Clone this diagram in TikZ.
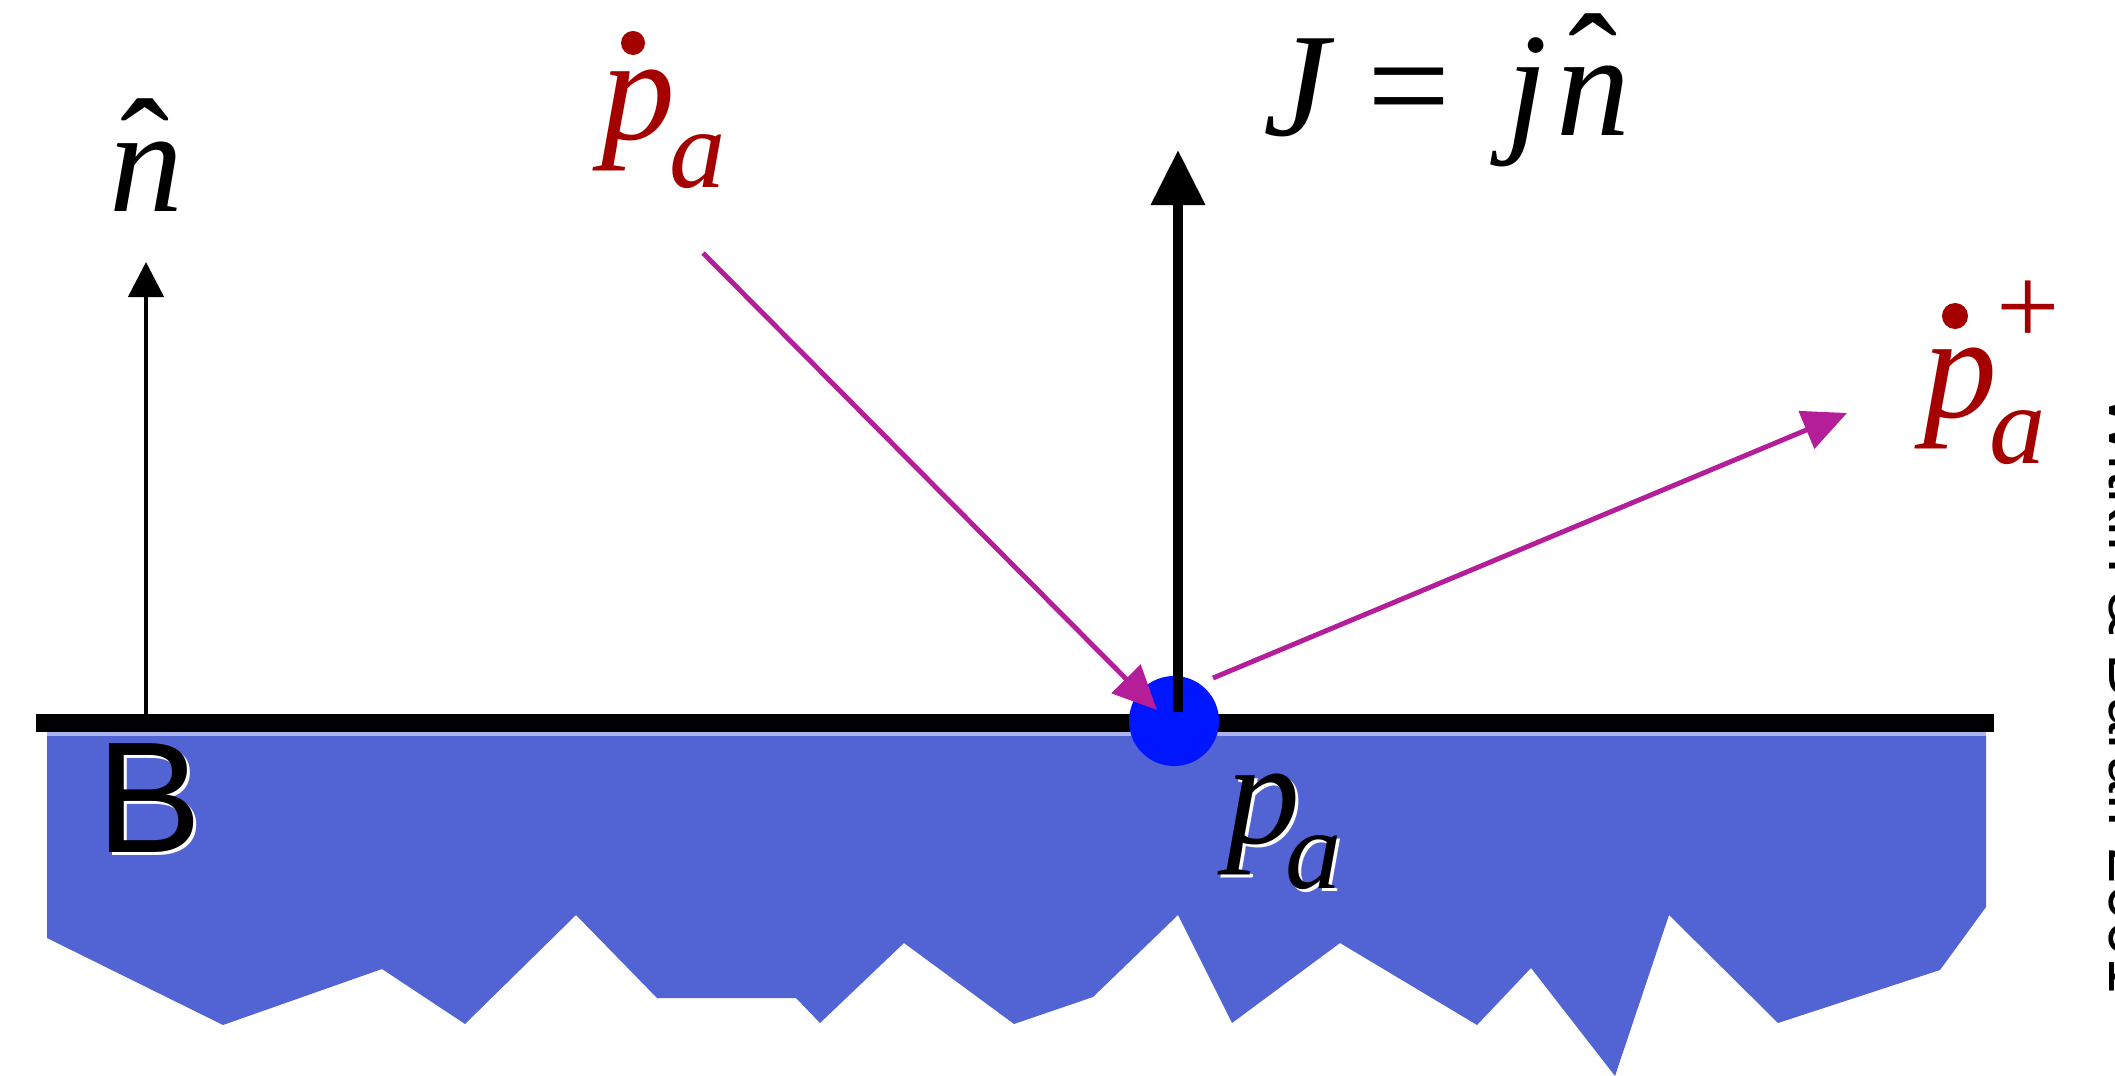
\documentclass[tikz,border=0pt]{standalone}
\usepackage{fontspec}
\usetikzlibrary{arrows.meta}
\newfontfamily\tms{Liberation Serif}
\newfontfamily\hlv{Liberation Sans}
\definecolor{groundblue}{RGB}{82,99,212}
\definecolor{groundedge}{RGB}{170,180,240}
\definecolor{dotblue}{RGB}{0,22,255}
\definecolor{lblred}{RGB}{165,0,0}
\definecolor{arrowpink}{RGB}{180,30,152}
\newcommand\mainf{\tms\itshape\fontsize{42pt}{50pt}\selectfont}
\newcommand\subf{\tms\itshape\fontsize{32pt}{38pt}\selectfont}
\newcommand\hatn[2]{\rlap{\kern#2\raisebox{#1}{\upshape\symbol{"02C6}}}n}
\tikzset{
  lbl/.style={anchor=base west, inner sep=0pt, outer sep=0pt},
  pinkarrow/.style={draw=arrowpink, line width=1.4pt, -{Triangle[length=0.44cm,width=0.40cm]}},
}
\begin{document}
\begin{tikzpicture}[x=0.01cm, y=-0.01cm]
\useasboundingbox (0,0) rectangle (2115,1076);
\clip (0,0) rectangle (2115,1076);
% ground body
\fill[groundblue] (47,734) -- (1986,734) -- (1986,907) -- (1940,970) -- (1778,1023)
  -- (1669,915) -- (1615,1076) -- (1531,968) -- (1477,1025) -- (1340,943)
  -- (1232,1023) -- (1178,915) -- (1093,997) -- (1014,1024) -- (904,943)
  -- (820,1023) -- (796,998) -- (657,998) -- (576,915) -- (465,1024)
  -- (382,969) -- (223,1025) -- (47,938) -- cycle;
\fill[groundedge] (47,732) rectangle (1986,736);
% surface line
\fill[black] (36,714) rectangle (1994,732);
% contact point
\node[circle, fill=dotblue, minimum size=0.9cm, inner sep=0pt] (dot) at (1174,721) {};
% coordinates for arrow ends
\coordinate (nbase) at (146,716);
\coordinate (ntip) at (146,262);
\coordinate (jbase) at (1178,712);
\coordinate (jtip) at (1178,150);
\coordinate (inS) at (703,253);
\coordinate (inE) at (1157,710);
\coordinate (outS) at (1213,678);
\coordinate (outE) at (1847,413);
% normal arrows
\draw[line width=1.3pt, -{Triangle[length=0.35cm,width=0.35cm]}] (nbase) -- (ntip);
\draw[line width=2.8pt, -{Triangle[length=0.55cm,width=0.52cm]}] (jbase) -- (jtip);
% velocity arrows
\draw[pinkarrow] (inS) -- (inE);
\draw[pinkarrow] (outS) -- (outE);
% labels
\node[lbl, font=\mainf] (nhat) at (110,212) {\hatn{2.9pt}{3.1pt}};
\node[lbl, font=\mainf] (Jlbl) at (1263,136) {J\kern11pt{\upshape=}\kern15.9pt j\kern2.6pt\hatn{5.5pt}{3.4pt}};
\node[lbl, text=lblred] (pa) at (601,140) {\mainf p\kern-1.5pt\raisebox{-13.6pt}{\subf a}};
\fill[lblred] (633,43) circle[radius=0.12cm];
\node[lbl, text=lblred] (pap) at (1923,417) {\mainf p\kern-2pt\rlap{\raisebox{-13.1pt}{\subf a}}\kern2pt\raisebox{20.5pt}{\subf\upshape +}};
\fill[lblred] (1955,316) circle[radius=0.13cm];
\node[lbl, text=white] (pashadow) at (1229,846) {\mainf p\kern-4pt\raisebox{-12.8pt}{\subf a}};
\node[lbl] (pab) at (1226,843) {\mainf p\kern-4pt\raisebox{-12.8pt}{\subf a}};
\node[lbl, text=white, font=\hlv\fontsize{45pt}{50pt}\selectfont] (Bshadow) at (99,855) {B};
\node[lbl, font=\hlv\fontsize{45pt}{50pt}\selectfont] (B) at (96,852) {B};
\node[lbl, rotate=-90, font=\hlv\fontsize{18.8pt}{22pt}\selectfont] (credit) at (2109,393) {Witkin \& Baraff 2001};
\end{tikzpicture}
\end{document}
